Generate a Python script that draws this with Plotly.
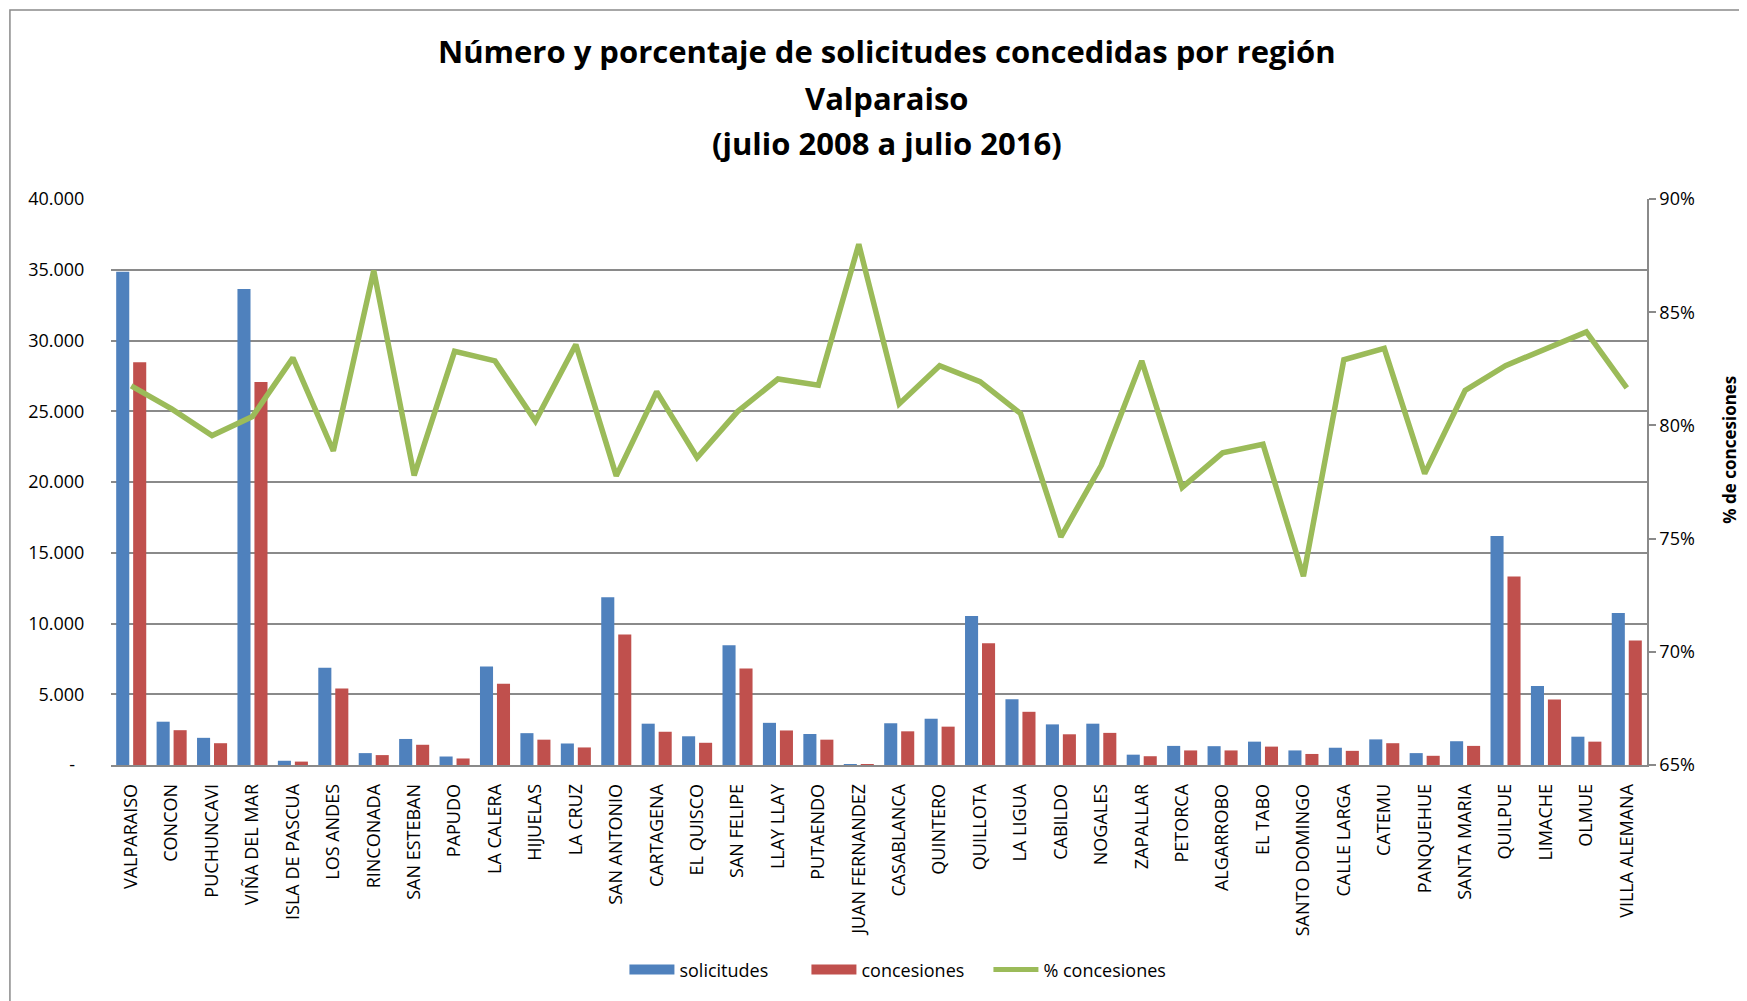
import plotly.graph_objects as go

### Data
comunas = [
    "VALPARAISO", "CONCON", "PUCHUNCAVI", "VIÑA DEL MAR", "ISLA DE PASCUA", "LOS ANDES",
    "RINCONADA", "SAN ESTEBAN", "PAPUDO", "LA CALERA", "HIJUELAS", "LA CRUZ",
    "SAN ANTONIO", "CARTAGENA", "EL QUISCO", "SAN FELIPE", "LLAY LLAY", "PUTAENDO",
    "JUAN FERNANDEZ", "CASABLANCA", "QUINTERO", "QUILLOTA", "LA LIGUA", "CABILDO",
    "NOGALES", "ZAPALLAR", "PETORCA", "ALGARROBO", "EL TABO", "SANTO DOMINGO",
    "CALLE LARGA", "CATEMU", "PANQUEHUE", "SANTA MARIA", "QUILPUE", "LIMACHE",
    "OLMUE", "VILLA ALEMANA",
]
solicitudes = [
    34860, 3060, 1920, 33640, 300, 6870,
    840, 1840, 600, 6960, 2250, 1520,
    11850, 2920, 2030, 8470, 2980, 2190,
    50, 2950, 3270, 10530, 4650, 2870,
    2920, 730, 1350, 1330, 1650, 1030,
    1220, 1810, 840, 1680, 16180, 5580,
    2000, 10740,
]
concesiones = [
    28470, 2460, 1540, 27060, 240, 5410,
    700, 1430, 460, 5740, 1790, 1240,
    9230, 2350, 1570, 6820, 2440, 1790,
    30, 2380, 2710, 8610, 3760, 2170,
    2270, 620, 1030, 1030, 1300, 780,
    1000, 1540, 650, 1350, 13320, 4630,
    1650, 8800,
]
pct_concesiones = [
    0.8175, 0.8073, 0.7955, 0.8039, 0.8298, 0.7887,
    0.8684, 0.7779, 0.8327, 0.8285, 0.8019, 0.8357,
    0.7777, 0.8149, 0.7858, 0.8061, 0.8205, 0.8178,
    0.8800, 0.8095, 0.8264, 0.8193, 0.8053, 0.7508,
    0.7824, 0.8285, 0.7726, 0.7879, 0.7917, 0.7334,
    0.8290, 0.8340, 0.7787, 0.8154, 0.8264, 0.8337,
    0.8413, 0.8166,
]

left_tickvals = [0, 5000, 10000, 15000, 20000, 25000, 30000, 35000, 40000]
left_ticktext = ["-\u00a0\u00a0", "5.000", "10.000", "15.000", "20.000", "25.000", "30.000", "35.000", "40.000"]
title_lines = [
    "Número y porcentaje de solicitudes concedidas por región",
    "Valparaiso",
    "(julio 2008 a julio 2016)",
]

### Style
BLUE = "#4F81BD"
RED = "#C0504D"
GREEN = "#9BBB59"
GRID = "#8a8a8a"
FONT = "Open Sans, DejaVu Sans, sans-serif"

fig = go.Figure()

fig.add_trace(go.Bar(x=comunas, y=solicitudes, name="solicitudes",
                     marker=dict(color=BLUE, line=dict(width=0)), showlegend=False))
fig.add_trace(go.Bar(x=comunas, y=concesiones, name="concesiones",
                     marker=dict(color=RED, line=dict(width=0)), showlegend=False))
fig.add_trace(go.Scatter(x=comunas, y=pct_concesiones, name="% concesiones", yaxis="y2",
                         mode="lines", line=dict(color=GREEN, width=5.5), showlegend=False))

# legend entries drawn as wide strokes, like the original spreadsheet legend
for name, color, width in [("solicitudes", BLUE, 11), ("concesiones", RED, 11), ("% concesiones", GREEN, 5)]:
    fig.add_trace(go.Scatter(x=[None], y=[None], name=name, mode="lines",
                             line=dict(color=color, width=width)))

# title as three centred lines
for text, ypos in zip(title_lines, [1.262, 1.179, 1.099]):
    fig.add_annotation(text=f"<b>{text}</b>", xref="paper", yref="paper", x=0.505, y=ypos,
                       xanchor="center", yanchor="middle", showarrow=False,
                       font=dict(family=FONT, size=31, color="black"))

# right axis title
fig.add_annotation(text="<b>% de concesiones</b>", xref="paper", yref="paper", x=1.054, y=0.557,
                   xanchor="center", yanchor="middle", textangle=-90, showarrow=False,
                   font=dict(family=FONT, size=17, color="black"))

# outer chart frame
fig.add_shape(type="rect", xref="paper", yref="paper", x0=-0.0658, x1=1.1, y0=-0.5, y1=1.334,
              line=dict(color=GRID, width=1.5), fillcolor="rgba(0,0,0,0)", layer="below")

fig.update_layout(
    width=1739,
    height=993,
    margin=dict(l=103, r=100, t=191, b=236),
    paper_bgcolor="white",
    plot_bgcolor="white",
    font=dict(family=FONT, size=18, color="black"),
    barmode="group",
    bargap=0.16,
    bargroupgap=0.23,
    xaxis=dict(
        type="category",
        tickangle=-90,
        showgrid=False,
        showline=True,
        linecolor=GRID,
        linewidth=1.5,
        ticks="outside",
        ticklen=10,
        tickcolor="rgba(0,0,0,0)",
        tickfont=dict(size=18),
        automargin=False,
    ),
    yaxis=dict(
        range=[0, 40000],
        tickvals=left_tickvals,
        ticktext=left_ticktext,
        showgrid=True,
        gridcolor=GRID,
        gridwidth=1.5,
        showline=False,
        zeroline=False,
        ticks="outside",
        ticklen=22,
        tickcolor="rgba(0,0,0,0)",
        automargin=False,
    ),
    yaxis2=dict(
        overlaying="y",
        side="right",
        range=[0.65, 0.90],
        dtick=0.05,
        tickformat=".0%",
        showgrid=False,
        zeroline=False,
        showline=True,
        linecolor=GRID,
        linewidth=1.5,
        ticks="outside",
        ticklen=7,
        tickcolor=GRID,
        tickwidth=1.5,
        automargin=False,
    ),
    legend=dict(
        orientation="h",
        x=0.512,
        xanchor="center",
        y=-0.362,
        yanchor="middle",
        font=dict(size=18),
        itemwidth=45,
        entrywidth=122,
        bgcolor="rgba(0,0,0,0)",
    ),
)

fig.write_html("out.html")
